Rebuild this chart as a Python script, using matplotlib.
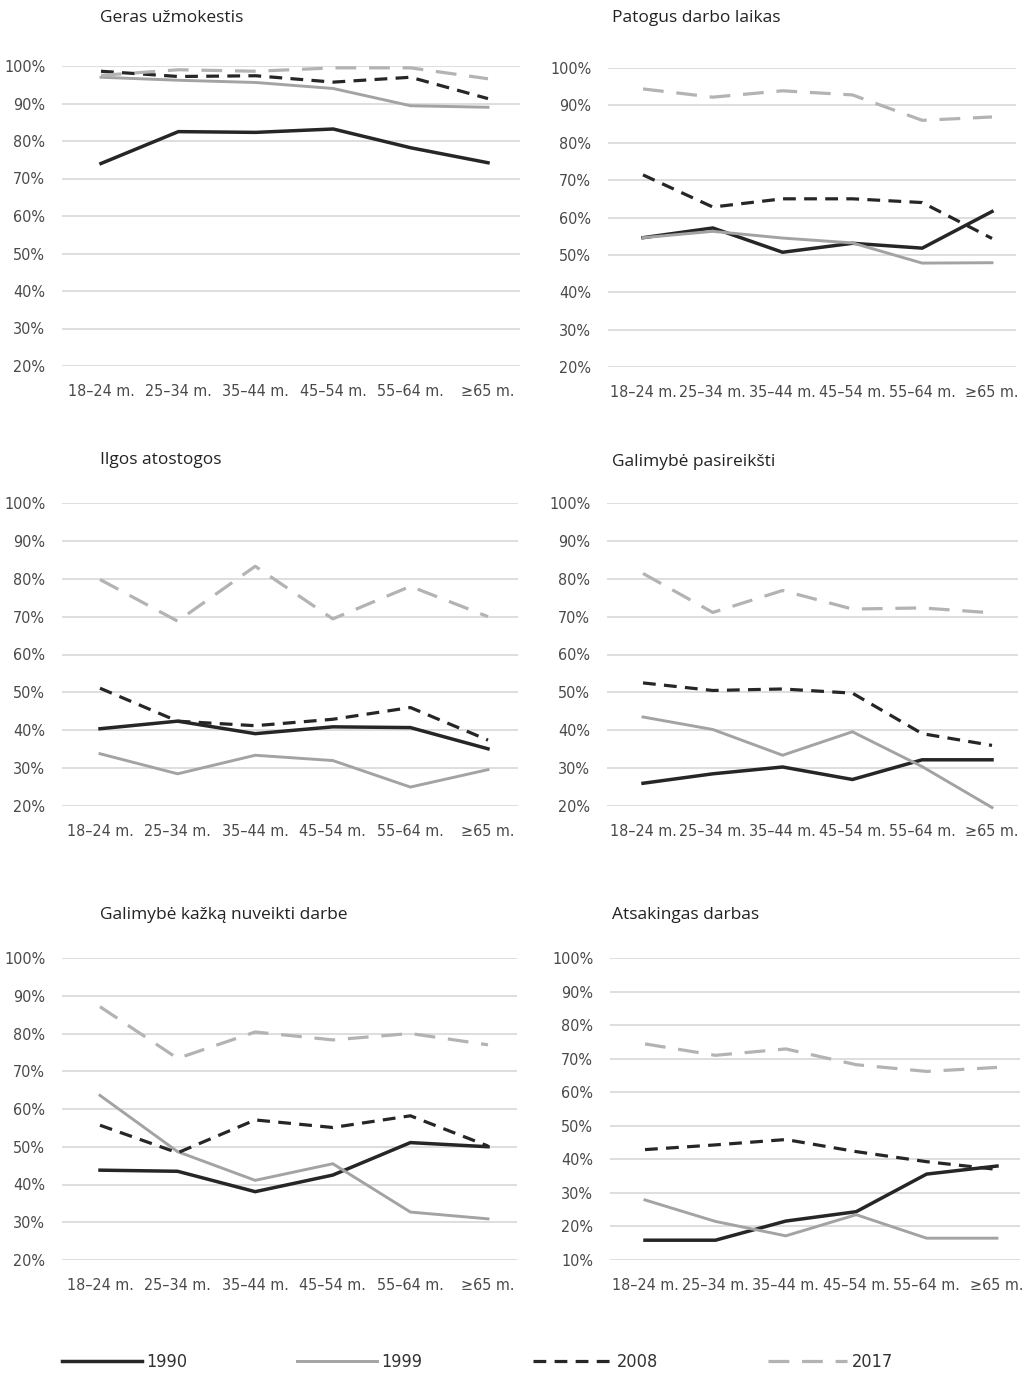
import matplotlib
matplotlib.use("Agg")
import matplotlib.pyplot as plt
from matplotlib.ticker import FuncFormatter
from matplotlib.font_manager import FontProperties

# age groups and years
ages = ["18–24 m.", "25–34 m.", "35–44 m.", "45–54 m.", "55–64 m.", "≥65 m."]
years = ["1990", "1999", "2008", "2017"]

titles = ["Geras užmokestis", "Patogus darbo laikas", "Ilgos atostogos",
          "Galimybė pasireikšti", "Galimybė kažką nuveikti darbe", "Atsakingas darbas"]

# values in %, per panel, per year
geras = [[74, 82.5, 82.3, 83.2, 78.2, 74.2],
         [97, 96.2, 95.6, 94, 89.4, 89],
         [98.6, 97.2, 97.4, 95.7, 97, 91.3],
         [97.5, 99, 98.6, 99.5, 99.5, 96.6]]
patogus = [[54.6, 57.2, 50.7, 53.1, 51.8, 61.6],
           [54.6, 56.3, 54.5, 53.2, 47.8, 47.9],
           [71.4, 62.8, 65, 65, 64, 54.4],
           [94.4, 92.2, 93.9, 92.8, 86, 86.9]]
ilgos = [[40.4, 42.4, 39.1, 40.9, 40.7, 35.1],
         [33.8, 28.5, 33.4, 32, 25, 29.6],
         [51.1, 42.4, 41.2, 42.9, 46, 37.4],
         [79.8, 68.8, 83.3, 69.4, 78, 70]]
pasireiksti = [[26, 28.5, 30.3, 27, 32.2, 32.2],
               [43.5, 40.2, 33.4, 39.6, 30.4, 19.6],
               [52.5, 50.5, 50.9, 49.8, 39.1, 36],
               [81.4, 71.1, 76.9, 72, 72.3, 71]]
nuveikti = [[43.8, 43.5, 38.1, 42.5, 51.1, 50],
            [63.6, 48.7, 41.1, 45.5, 32.7, 30.9],
            [55.7, 48.4, 57.1, 55.1, 58.2, 50.2],
            [87.1, 73.4, 80.4, 78.3, 80, 77]]
atsakingas = [[15.9, 15.9, 21.6, 24.4, 35.6, 38],
              [27.9, 21.5, 17.2, 23.5, 16.5, 16.5],
              [42.9, 44.3, 45.9, 42.3, 39.3, 37],
              [74.4, 71, 72.9, 68.2, 66.2, 67.4]]
panels = [geras, patogus, ilgos, pasireiksti, nuveikti, atsakingas]
ymins = [20, 20, 20, 20, 20, 10]

styles = [dict(color="#262626", lw=2.5, ls="-"),
          dict(color="#a3a3a3", lw=2.1, ls="-"),
          dict(color="#262626", lw=2.3, ls=(0, (4, 2.6))),
          dict(color="#b3b3b3", lw=2.3, ls=(0, (6.5, 4)))]

W, H = 1026, 1375
fig = plt.figure(figsize=(W / 100, H / 100), dpi=100)

# pixel boxes: (grid left, grid right, y top value line, y bottom value line, first pt, last pt)
boxes = [(62, 520, 66, 366, 101, 488),
         (608, 1016, 68, 367, 643, 992),
         (62, 518, 503, 806, 100, 488),
         (607, 1018, 503, 806, 643, 992),
         (62, 517, 958, 1260, 100, 488),
         (610, 1020, 958, 1260, 645, 997)]
title_pos = [(100, 18), (612, 18), (100, 460), (612, 462), (100, 915), (612, 915)]

tick_fp = FontProperties(family="DejaVu Sans", stretch="condensed", size=11.5)

lines = []
for i, data in enumerate(panels):
    gl, gr, yt, yb, p0, p1 = boxes[i]
    ax = fig.add_axes([gl / W, 1 - yb / H, (gr - gl) / W, (yb - yt) / H])
    step = (p1 - p0) / 5
    ax.set_xlim(-(p0 - gl) / step, 5 + (gr - p1) / step)
    ax.set_ylim(ymins[i], 100)
    x = list(range(len(ages)))
    lines = []
    for k, vals in enumerate(data):
        ln, = ax.plot(x, vals, label=years[k], clip_on=False, zorder=3,
                      solid_joinstyle="miter", **styles[k])
        lines.append(ln)
    ax.set_yticks(range(ymins[i], 101, 10))
    ax.yaxis.set_major_formatter(FuncFormatter(lambda v, p: f"{int(v)}%"))
    ax.set_xticks(x)
    ax.set_xticklabels(ages)
    ax.grid(axis="y", color="#dedede", lw=1.4)
    ax.set_axisbelow(True)
    for s in ax.spines.values():
        s.set_visible(False)
    ax.tick_params(length=0, labelcolor="#4a4a4a")
    ax.tick_params(axis="y", pad=12)
    ax.tick_params(axis="x", pad=13)
    for t in ax.get_xticklabels() + ax.get_yticklabels():
        t.set_fontproperties(tick_fp)
    tx, ty = title_pos[i]
    fig.text(tx / W, 1 - ty / H, titles[i], ha="left", va="center",
             fontsize=12.5, color="#222222", family=["Open Sans", "DejaVu Sans"])

leg_fp = FontProperties(family="DejaVu Sans", stretch="condensed", size=13)
leg = fig.legend(handles=lines, labels=years, loc="center left",
                 bbox_to_anchor=(46 / W, 1 - 1362 / H), ncol=4, frameon=False,
                 handlelength=4.4, handletextpad=0.25, columnspacing=6.1,
                 prop=leg_fp)
for t in leg.get_texts():
    t.set_color("#333333")

fig.savefig("out.png", dpi=100, facecolor="white")
